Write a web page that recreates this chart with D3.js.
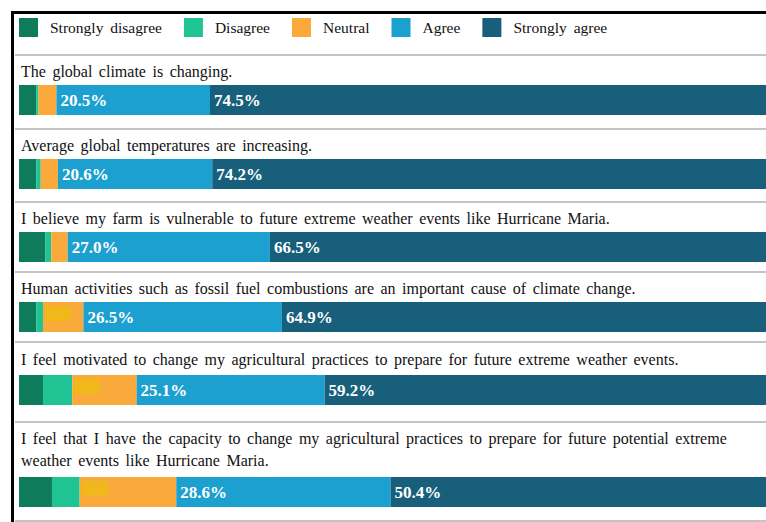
<!DOCTYPE html>
<html>
<head>
    <title>Climate perceptions</title>
    <script src="https://d3js.org/d3.v7.min.js"></script>
    <style>
        body { margin: 0; background: #fff; }
        text { font-family: "Liberation Serif", "Times New Roman", serif; }
        .label { font-size: 16px; fill: #111; word-spacing: 2.5px; }
        .legend-text { font-size: 15.5px; fill: #111; word-spacing: 3px; }
        .pct { font-size: 17px; font-weight: bold; fill: #fff; }
    </style>
</head>
<body>
<div id="chart"></div>
<script>
    // Dane
    const responses = ["Strongly disagree", "Disagree", "Neutral", "Agree", "Strongly agree"];
    const statements = [
        "The global climate is changing.",
        "Average global temperatures are increasing.",
        "I believe my farm is vulnerable to future extreme weather events like Hurricane Maria.",
        "Human activities such as fossil fuel combustions are an important cause of climate change.",
        "I feel motivated to change my agricultural practices to prepare for future extreme weather events.",
        "I feel that I have the capacity to change my agricultural practices to prepare for future potential extreme\nweather events like Hurricane Maria."
    ];
    const stronglyDisagree = [2.3, 2.3, 3.5, 2.3, 3.2, 4.4];
    const disagree         = [0.3, 0.6, 0.8, 0.9, 3.9, 3.7];
    const neutral          = [2.4, 2.3, 2.2, 5.4, 8.6, 12.9];
    const agree            = [20.5, 20.6, 27.0, 26.5, 25.1, 28.6];
    const stronglyAgree    = [74.5, 74.2, 66.5, 64.9, 59.2, 50.4];

    const colors = ["#0e7b5a", "#20c393", "#f9aa3a", "#1ba0cf", "#175f7a"];

    // Ustawienia wykresu
    const width = 766, height = 522;
    const rowTop = [55, 129, 202, 272, 342, 422], bottomLine = 521;
    const barH = 30;

    const table = statements.map((s, i) => ({
        label: s,
        "Strongly disagree": stronglyDisagree[i],
        "Disagree": disagree[i],
        "Neutral": neutral[i],
        "Agree": agree[i],
        "Strongly agree": stronglyAgree[i]
    }));
    const series = d3.stack().keys(responses)(table);

    const x = d3.scaleLinear().domain([0, 100]).range([19, 768]);
    const color = d3.scaleOrdinal().domain(responses).range(colors);

    const svg = d3.select("#chart").append("svg")
        .attr("width", width)
        .attr("height", height);

    // Ramka
    svg.append("line").attr("x1", 12).attr("x2", width).attr("y1", 12.5).attr("y2", 12.5)
        .attr("stroke", "#000").attr("stroke-width", 3);
    svg.append("line").attr("x1", 12.5).attr("x2", 12.5).attr("y1", 11).attr("y2", height)
        .attr("stroke", "#000").attr("stroke-width", 3);

    // Separatory
    svg.selectAll(".sep")
        .data(rowTop.concat([bottomLine]))
      .enter().append("line")
        .attr("class", "sep")
        .attr("x1", 15).attr("x2", width)
        .attr("y1", d => d).attr("y2", d => d)
        .attr("stroke", "#c4c4c4").attr("stroke-width", 2);

    // Legenda
    let lx = 19;
    responses.forEach(r => {
        const g = svg.append("g").attr("transform", "translate(" + lx + ",18)");
        g.append("rect").attr("width", 19).attr("height", 19).attr("fill", color(r));
        const t = g.append("text").attr("class", "legend-text")
            .attr("x", 31).attr("y", 15).text(r);
        lx += 31 + t.node().getComputedTextLength() + 22;
    });

    // Pozycje wierszy
    const lines = statements.map(s => s.split("\n"));
    const barY = i => rowTop[i] + 30 + (i === 4 ? 3 : 0) + 25 * (lines[i].length - 1);

    // Etykiety
    lines.forEach((ls, i) => {
        svg.append("text").attr("class", "label")
            .selectAll("tspan").data(ls).enter().append("tspan")
            .attr("x", 21)
            .attr("y", (d, j) => rowTop[i] + 22 + (i === 4 ? 1 : 0) + 22 * j)
            .text(d => d);
    });

    // Słupki
    const groups = svg.selectAll(".series")
        .data(series)
      .enter().append("g")
        .attr("fill", d => color(d.key));

    groups.selectAll("rect")
        .data(d => d)
      .enter().append("rect")
        .attr("x", d => x(d[0]))
        .attr("width", d => x(d[1]) - x(d[0]))
        .attr("y", (d, i) => barY(i))
        .attr("height", barH);

    // Zamalowane etykiety w segmencie Neutral (jak w oryginale)
    const neutralSeries = series[2];
    svg.selectAll(".mask")
        .data(neutralSeries.filter((d, i) => i >= 3).map((d, k) => ({d: d, i: k + 3})))
      .enter().append("rect")
        .attr("x", o => x(o.d[0]) + 2)
        .attr("y", o => barY(o.i) + 4)
        .attr("width", 26)
        .attr("height", 15)
        .attr("fill", "#f1b81c");

    // Wartości procentowe
    [3, 4].forEach(k => {
        svg.selectAll(".pct" + k)
            .data(series[k])
          .enter().append("text")
            .attr("class", "pct")
            .attr("x", d => x(d[0]) + 4)
            .attr("y", (d, i) => barY(i) + 21)
            .text(d => (d[1] - d[0]).toFixed(1) + "%");
    });
</script>
</body>
</html>
